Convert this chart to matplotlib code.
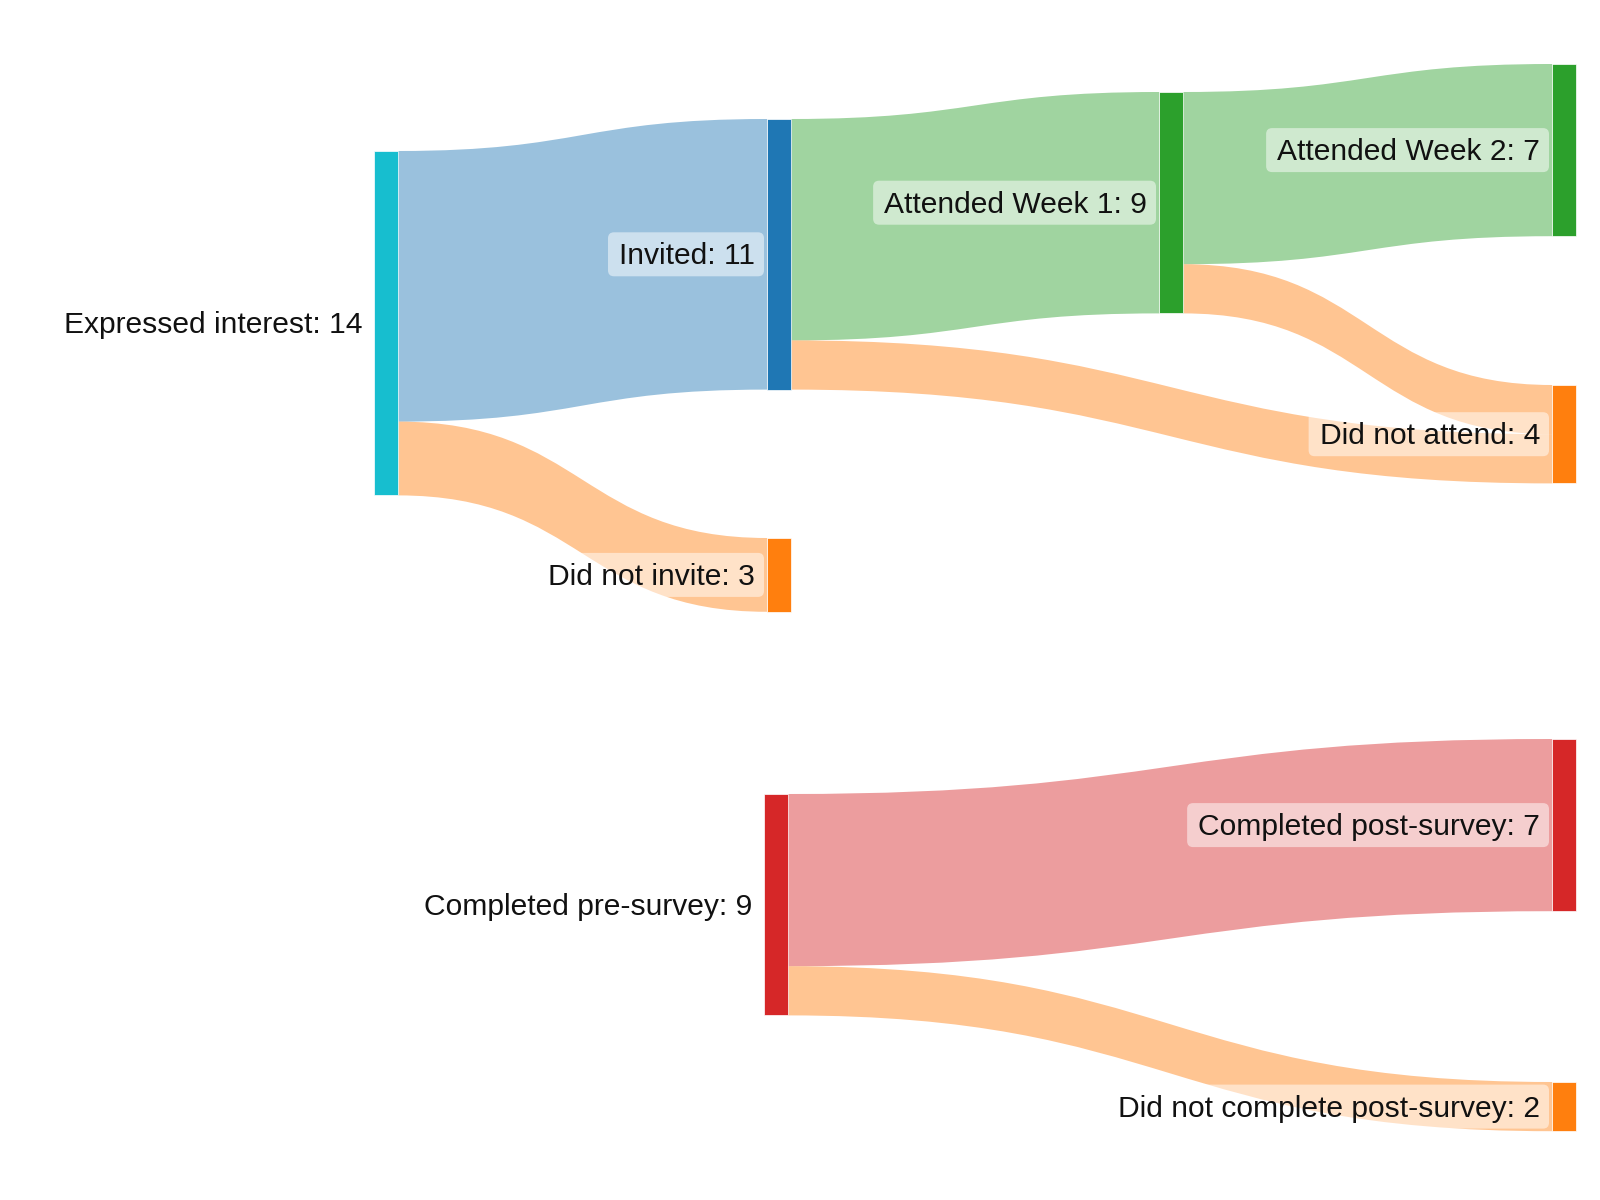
import matplotlib.pyplot as plt
from matplotlib.path import Path
from matplotlib.patches import PathPatch, Rectangle, FancyBboxPatch

labels = ["Expressed interest", "Invited", "Did not invite", "Attended Week 1",
          "Did not attend", "Attended Week 2", "Completed pre-survey",
          "Completed post-survey", "Did not complete post-survey"]
node_colors = ["#17becf", "#1f77b4", "#ff7f0e", "#2ca02c", "#ff7f0e",
               "#2ca02c", "#d62728", "#d62728", "#ff7f0e"]

sources = [0, 0, 1, 1, 3, 3, 6, 6]
targets = [1, 2, 3, 4, 5, 4, 7, 8]
values = [11, 3, 9, 2, 7, 2, 7, 2]
link_colors = ["#1f77b4", "#ff7f0e", "#2ca02c", "#ff7f0e",
               "#2ca02c", "#ff7f0e", "#d62728", "#ff7f0e"]

# layout (pixels, y downwards)
node_x = [374, 767, 767, 1159, 1552, 1552, 764, 1552, 1552]
node_top = [151, 119, 538, 92, 385, 64, 794, 739, 1082]
NODE_W = 24
PX_PER_UNIT = 24.6

n = len(labels)
inflow = [0] * n
outflow = [0] * n
for s, t, v in zip(sources, targets, values):
    outflow[s] += v
    inflow[t] += v
node_val = [max(a, b) for a, b in zip(inflow, outflow)]

fig = plt.figure(figsize=(16, 12), dpi=100)
ax = fig.add_axes([0, 0, 1, 1])
ax.set_xlim(0, 1600)
ax.set_ylim(1200, 0)
ax.axis("off")

# stack links at each node
out_order = {i: [] for i in range(n)}
in_order = {i: [] for i in range(n)}
for k, (s, t) in enumerate(zip(sources, targets)):
    out_order[s].append(k)
    in_order[t].append(k)

src_y = {}
tgt_y = {}
for i in range(n):
    y = node_top[i]
    for k in sorted(out_order[i], key=lambda k: node_top[targets[k]]):
        src_y[k] = y
        y += values[k] * PX_PER_UNIT
    y = node_top[i]
    for k in sorted(in_order[i], key=lambda k: node_top[sources[k]]):
        tgt_y[k] = y
        y += values[k] * PX_PER_UNIT

for k in range(len(values)):
    s, t = sources[k], targets[k]
    h = values[k] * PX_PER_UNIT
    x0 = node_x[s] + NODE_W
    x1 = node_x[t]
    xm = (x0 + x1) / 2
    y0, y1 = src_y[k], tgt_y[k]
    verts = [(x0, y0), (xm, y0), (xm, y1), (x1, y1),
             (x1, y1 + h), (xm, y1 + h), (xm, y0 + h), (x0, y0 + h), (x0, y0)]
    codes = [Path.MOVETO, Path.CURVE4, Path.CURVE4, Path.CURVE4,
             Path.LINETO, Path.CURVE4, Path.CURVE4, Path.CURVE4, Path.CLOSEPOLY]
    ax.add_patch(PathPatch(Path(verts, codes), facecolor=link_colors[k],
                           alpha=0.45, edgecolor="none", zorder=1))

for i in range(n):
    ax.add_patch(Rectangle((node_x[i], node_top[i]), NODE_W, node_val[i] * PX_PER_UNIT,
                           facecolor=node_colors[i], edgecolor="white",
                           linewidth=0.5, zorder=2))

renderer = fig.canvas.get_renderer()
inv = ax.transData.inverted()
for i in range(n):
    cy = node_top[i] + node_val[i] * PX_PER_UNIT / 2
    base = cy + 10
    txt = ax.text(node_x[i] - 12, base, f"{labels[i]}: {node_val[i]}",
                  ha="right", va="baseline", fontsize=21.6, color="#111111",
                  family="Liberation Sans", zorder=4)
    bb = txt.get_window_extent(renderer)
    left = inv.transform((bb.x0, bb.y0))[0]
    bx0 = left - 11
    bx1 = node_x[i] - 3
    ax.add_patch(FancyBboxPatch((bx0, base - 32), bx1 - bx0, 44,
                                boxstyle="round,pad=0,rounding_size=6",
                                facecolor="white", alpha=0.5,
                                edgecolor="none", zorder=3))

fig.savefig("out.png", dpi=100, facecolor="white")
